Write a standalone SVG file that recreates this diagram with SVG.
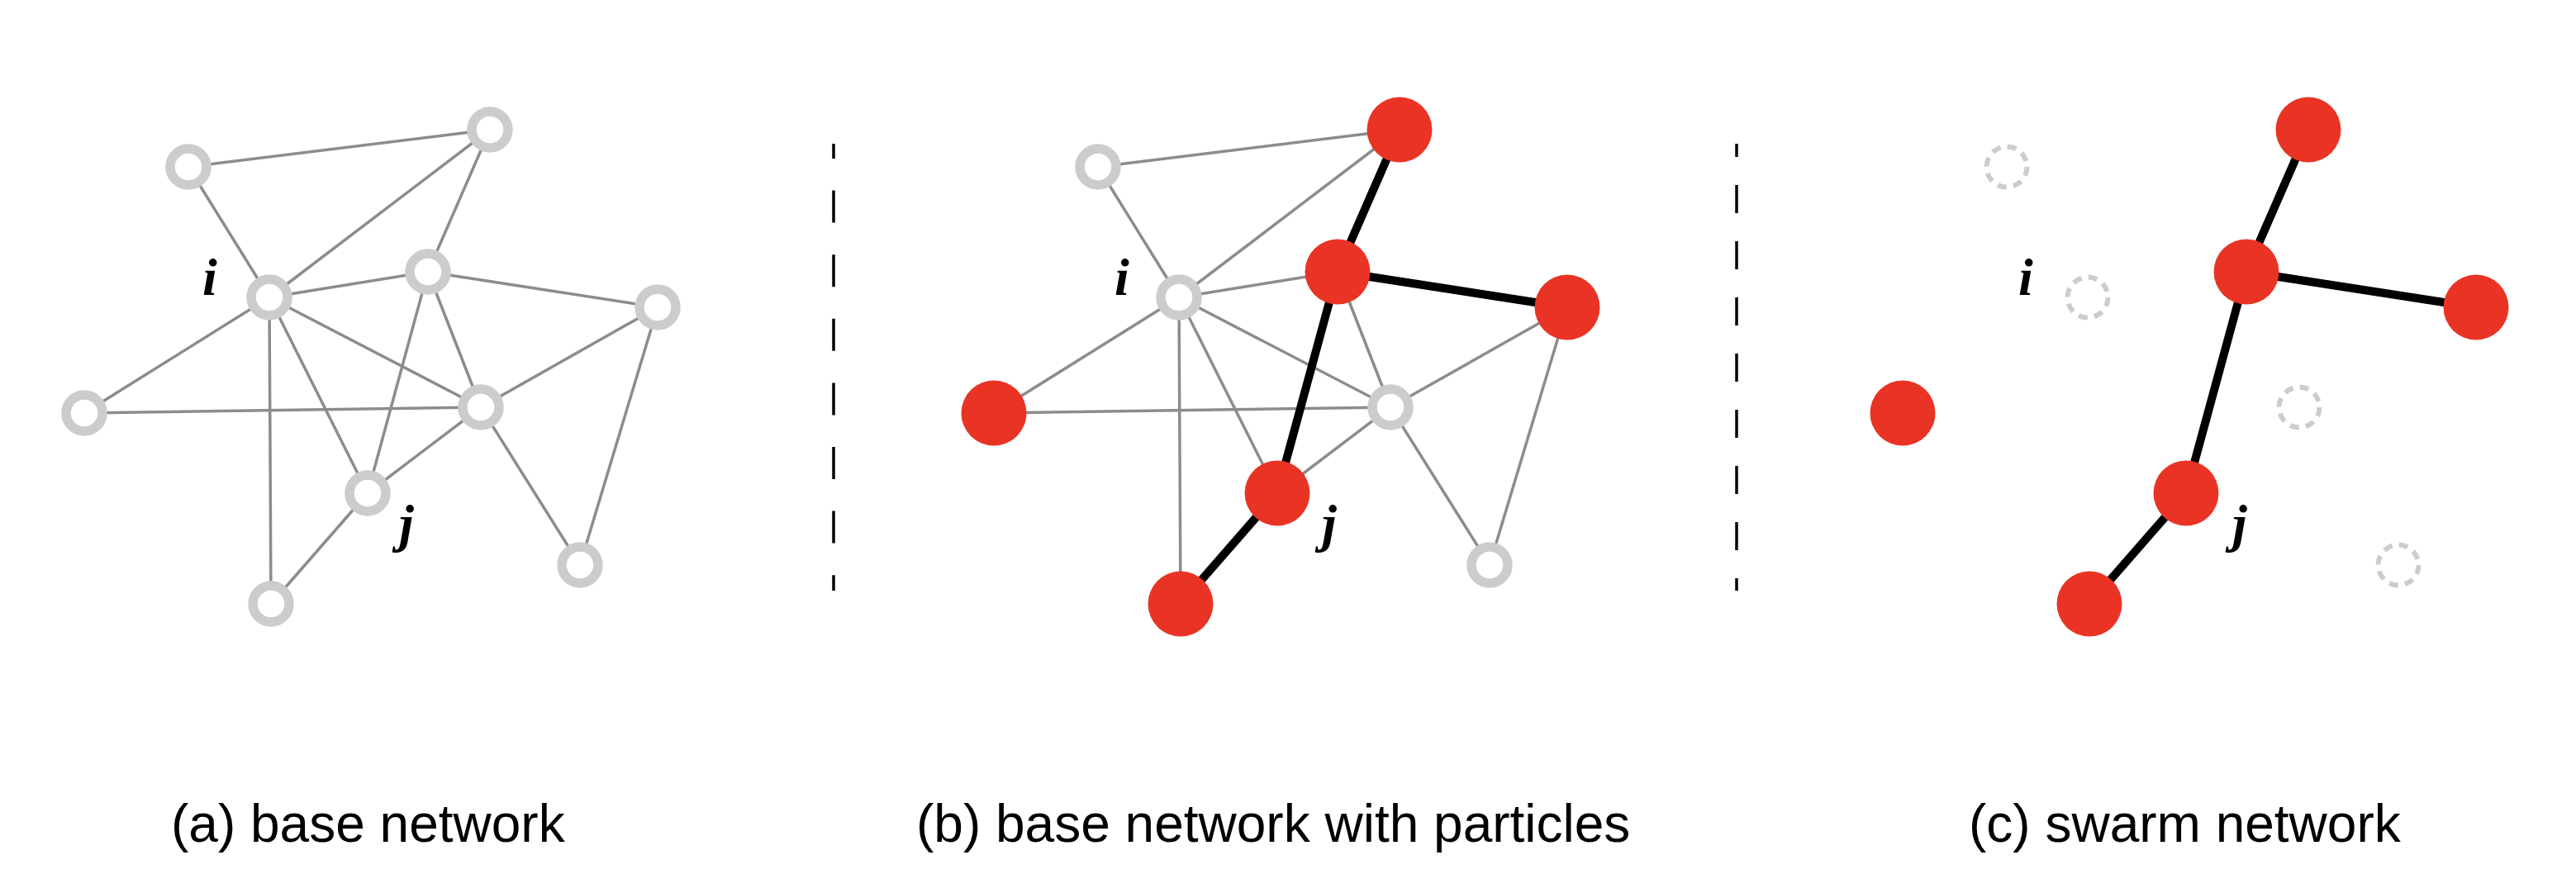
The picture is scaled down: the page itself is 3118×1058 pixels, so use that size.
<svg xmlns="http://www.w3.org/2000/svg" width="3118" height="1058" viewBox="0 0 3118 1058">
<style>
.e{stroke:#8c8c8c;stroke-width:3.5;fill:none}
.k{stroke:#000;stroke-width:10;fill:none}
.h{fill:#fff;stroke:#cccccc;stroke-width:11.5}
.r{fill:#e93425}
.d{fill:none;stroke:#cccccc;stroke-width:6;stroke-dasharray:11 8.24}
.lab{font-family:"Liberation Serif","Times New Roman",serif;font-style:italic;font-weight:bold;font-size:64px;fill:#000}
.cap{font-family:"Liberation Sans",Arial,sans-serif;font-size:64px;fill:#000}
.sep{stroke:#000;stroke-width:3.5}
</style>
<rect width="3118" height="1058" fill="#fff"/>
<g id="connectors">
<g id="edges-a">
<line class="e" x1="228" y1="202" x2="593" y2="157"/>
<line class="e" x1="228" y1="202" x2="326" y2="360"/>
<line class="e" x1="326" y1="360" x2="593" y2="157"/>
<line class="e" x1="593" y1="157" x2="518" y2="329"/>
<line class="e" x1="326" y1="360" x2="518" y2="329"/>
<line class="e" x1="518" y1="329" x2="796" y2="372"/>
<line class="e" x1="326" y1="360" x2="102" y2="500"/>
<line class="e" x1="326" y1="360" x2="582" y2="493"/>
<line class="e" x1="326" y1="360" x2="445" y2="597"/>
<line class="e" x1="326" y1="360" x2="328" y2="731"/>
<line class="e" x1="518" y1="329" x2="445" y2="597"/>
<line class="e" x1="518" y1="329" x2="582" y2="493"/>
<line class="e" x1="102" y1="500" x2="582" y2="493"/>
<line class="e" x1="582" y1="493" x2="796" y2="372"/>
<line class="e" x1="582" y1="493" x2="445" y2="597"/>
<line class="e" x1="445" y1="597" x2="328" y2="731"/>
<line class="e" x1="582" y1="493" x2="702" y2="684"/>
<line class="e" x1="796" y1="372" x2="702" y2="684"/>
</g>
<g id="edges-b" transform="translate(1101,0)">
<line class="e" x1="228" y1="202" x2="593" y2="157"/>
<line class="e" x1="228" y1="202" x2="326" y2="360"/>
<line class="e" x1="326" y1="360" x2="593" y2="157"/>
<line class="e" x1="326" y1="360" x2="518" y2="329"/>
<line class="e" x1="326" y1="360" x2="102" y2="500"/>
<line class="e" x1="326" y1="360" x2="582" y2="493"/>
<line class="e" x1="326" y1="360" x2="445" y2="597"/>
<line class="e" x1="326" y1="360" x2="328" y2="731"/>
<line class="e" x1="518" y1="329" x2="582" y2="493"/>
<line class="e" x1="102" y1="500" x2="582" y2="493"/>
<line class="e" x1="582" y1="493" x2="796" y2="372"/>
<line class="e" x1="582" y1="493" x2="445" y2="597"/>
<line class="e" x1="582" y1="493" x2="702" y2="684"/>
<line class="e" x1="796" y1="372" x2="702" y2="684"/>
<line class="k" x1="593" y1="157" x2="518" y2="329"/>
<line class="k" x1="518" y1="329" x2="796" y2="372"/>
<line class="k" x1="518" y1="329" x2="445" y2="597"/>
<line class="k" x1="445" y1="597" x2="328" y2="731"/>
</g>
<g id="edges-c" transform="translate(2201,0)">
<line class="k" x1="593" y1="157" x2="518" y2="329"/>
<line class="k" x1="518" y1="329" x2="796" y2="372"/>
<line class="k" x1="518" y1="329" x2="445" y2="597"/>
<line class="k" x1="445" y1="597" x2="328" y2="731"/>
</g>
</g>
<g id="panel-a">
<g id="a-tl"><circle class="h" cx="228" cy="202" r="22"/></g>
<g id="a-tr"><circle class="h" cx="593" cy="157" r="22"/></g>
<g id="a-i"><circle class="h" cx="326" cy="360" r="22"/></g>
<g id="a-mt"><circle class="h" cx="518" cy="329" r="22"/></g>
<g id="a-r"><circle class="h" cx="796" cy="372" r="22"/></g>
<g id="a-l"><circle class="h" cx="102" cy="500" r="22"/></g>
<g id="a-c"><circle class="h" cx="582" cy="493" r="22"/></g>
<g id="a-j"><circle class="h" cx="445" cy="597" r="22"/></g>
<g id="a-b"><circle class="h" cx="328" cy="731" r="22"/></g>
<g id="a-br"><circle class="h" cx="702" cy="684" r="22"/></g>
<text class="lab" x="245" y="357">i</text>
<text class="lab" x="483" y="655">j</text>
</g>
<g id="panel-b" transform="translate(1101,0)">
<g id="b-tl"><circle class="h" cx="228" cy="202" r="22"/></g>
<g id="b-tr"><circle class="r" cx="593" cy="157" r="39.5"/></g>
<g id="b-i"><circle class="h" cx="326" cy="360" r="22"/></g>
<g id="b-mt"><circle class="r" cx="518" cy="329" r="39.5"/></g>
<g id="b-r"><circle class="r" cx="796" cy="372" r="39.5"/></g>
<g id="b-l"><circle class="r" cx="102" cy="500" r="39.5"/></g>
<g id="b-c"><circle class="h" cx="582" cy="493" r="22"/></g>
<g id="b-j"><circle class="r" cx="445" cy="597" r="39.5"/></g>
<g id="b-b"><circle class="r" cx="328" cy="731" r="39.5"/></g>
<g id="b-br"><circle class="h" cx="702" cy="684" r="22"/></g>
<text class="lab" x="248" y="357">i</text>
<text class="lab" x="499" y="655">j</text>
</g>
<g id="panel-c" transform="translate(2201,0)">
<g id="c-tl"><circle class="d" cx="228" cy="202" r="24.5"/></g>
<g id="c-tr"><circle class="r" cx="593" cy="157" r="39.5"/></g>
<g id="c-i"><circle class="d" cx="326" cy="360" r="24.5"/></g>
<g id="c-mt"><circle class="r" cx="518" cy="329" r="39.5"/></g>
<g id="c-r"><circle class="r" cx="796" cy="372" r="39.5"/></g>
<g id="c-l"><circle class="r" cx="102" cy="500" r="39.5"/></g>
<g id="c-c"><circle class="d" cx="582" cy="493" r="24.5"/></g>
<g id="c-j"><circle class="r" cx="445" cy="597" r="39.5"/></g>
<g id="c-b"><circle class="r" cx="328" cy="731" r="39.5"/></g>
<g id="c-br"><circle class="d" cx="702" cy="684" r="24.5"/></g>
<text class="lab" x="242" y="357">i</text>
<text class="lab" x="501" y="655">j</text>
</g>
<g id="separators">
<line class="sep" x1="1009" y1="174" x2="1009" y2="715" stroke-dasharray="39 38.6" stroke-dashoffset="21"/>
<line class="sep" x1="2102" y1="174" x2="2102" y2="715" stroke-dasharray="34 34" stroke-dashoffset="18"/>
</g>
<g id="captions">
<text class="cap" x="207" y="1019">(a) base network</text>
<text class="cap" x="1109" y="1019">(b) base network with particles</text>
<text class="cap" x="2383" y="1019">(c) swarm network</text>
</g>
</svg>
